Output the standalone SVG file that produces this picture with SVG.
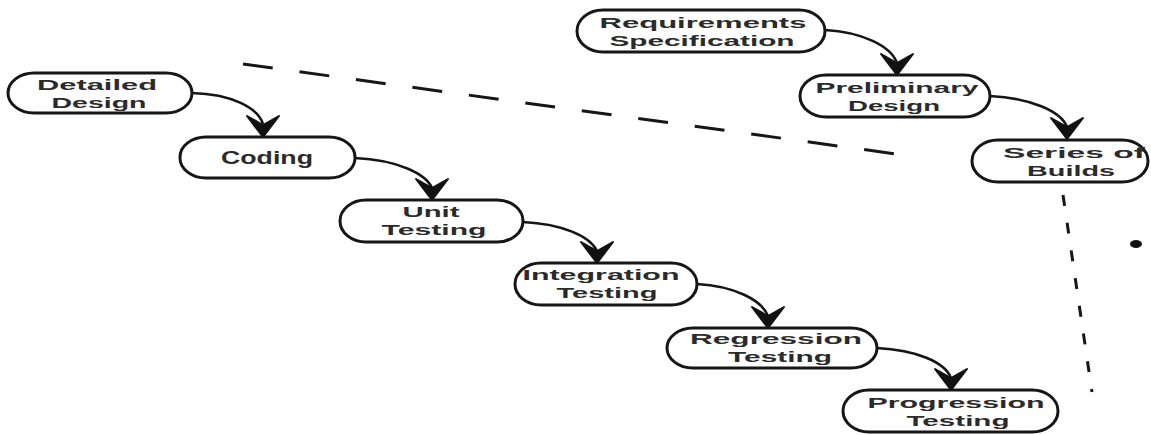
<svg xmlns="http://www.w3.org/2000/svg" xmlns:xlink="http://www.w3.org/1999/xlink" width="1151" height="435" viewBox="0 0 1151 435">
  <style>
    .node rect { fill: #ffffff; stroke: #161616; stroke-width: 3; }
    .node text { font-family: "Liberation Sans", Arial, sans-serif; font-size: 15.5px; font-weight: bold; fill: #2b2b2b; text-anchor: middle; }
    .node text.single { font-size: 18px; }
    .flow { fill: none; stroke: #161616; stroke-width: 2.6; }
    .divider { fill: none; stroke: #161616; stroke-width: 3; }
  </style>
  <defs>
    <!-- barbed arrowhead, tip at origin, pointing down -->
    <path id="head" d="M0,0 L-16,-21 L0,-12 L16,-21 Z" fill="#111111" stroke="#111111" stroke-width="2" stroke-linejoin="round"/>
  </defs>

  <rect width="1151" height="435" fill="#ffffff"/>

  <!-- phase boundaries -->
  <g id="dividers">
    <path class="divider" d="M243,64 L918,157" stroke-dasharray="30 27"/>
    <path class="divider" d="M1063,195 L1092,392" stroke-dasharray="11 17" stroke-width="4"/>
    <ellipse cx="1136" cy="244" rx="6" ry="4" fill="#111111"/>
  </g>

  <!-- connectors -->
  <g id="connectors">
    <path class="flow" d="M192,93 C232,94 258,108 263,124"/>
    <use xlink:href="#head" x="263" y="137"/>
    <path class="flow" d="M355,158 C398,160 426,174 432,188"/>
    <use xlink:href="#head" x="432" y="200"/>
    <path class="flow" d="M523,222 C562,224 590,236 597,251"/>
    <use xlink:href="#head" x="597" y="263"/>
    <path class="flow" d="M697,284 C734,286 762,300 768,316"/>
    <use xlink:href="#head" x="768" y="328"/>
    <path class="flow" d="M877,348 C916,350 945,362 951,378"/>
    <use xlink:href="#head" x="951" y="390"/>
    <path class="flow" d="M825,30 C862,32 891,46 897,63"/>
    <use xlink:href="#head" x="897" y="75"/>
    <path class="flow" d="M990,96 C1030,98 1061,111 1067,127"/>
    <use xlink:href="#head" x="1067" y="139"/>
  </g>

  <g id="requirements-specification" class="node">
    <rect x="577" y="10" width="248" height="42" rx="26" ry="21"/>
    <text x="703" y="28" textLength="207" lengthAdjust="spacingAndGlyphs">Requirements</text>
    <text x="702" y="45.5" textLength="185" lengthAdjust="spacingAndGlyphs">Specification</text>
  </g>

  <g id="preliminary-design" class="node">
    <rect x="800" y="75" width="190" height="42" rx="26" ry="21"/>
    <text x="897" y="93" textLength="163" lengthAdjust="spacingAndGlyphs">Preliminary</text>
    <text x="894" y="110.5" textLength="92" lengthAdjust="spacingAndGlyphs">Design</text>
  </g>

  <g id="series-of-builds" class="node">
    <rect x="972" y="140" width="176" height="42" rx="26" ry="21"/>
    <text x="1074" y="158" textLength="142" lengthAdjust="spacingAndGlyphs">Series of</text>
    <text x="1071" y="175.5" textLength="88" lengthAdjust="spacingAndGlyphs">Builds</text>
  </g>

  <g id="detailed-design" class="node">
    <rect x="8" y="73" width="184" height="40" rx="26" ry="20"/>
    <text x="97" y="90" textLength="120" lengthAdjust="spacingAndGlyphs">Detailed</text>
    <text x="99" y="107.5" textLength="95" lengthAdjust="spacingAndGlyphs">Design</text>
  </g>

  <g id="coding" class="node">
    <rect x="180" y="137" width="175" height="41" rx="26" ry="20"/>
    <text class="single" x="267" y="164" textLength="92" lengthAdjust="spacingAndGlyphs">Coding</text>
  </g>

  <g id="unit-testing" class="node">
    <rect x="340" y="200" width="183" height="42" rx="26" ry="21"/>
    <text x="431" y="217" textLength="57" lengthAdjust="spacingAndGlyphs">Unit</text>
    <text x="434" y="234.5" textLength="105" lengthAdjust="spacingAndGlyphs">Testing</text>
  </g>

  <g id="integration-testing" class="node">
    <rect x="515" y="263" width="182" height="42" rx="26" ry="21"/>
    <text x="601" y="280" textLength="157" lengthAdjust="spacingAndGlyphs">Integration</text>
    <text x="607" y="297.5" textLength="101" lengthAdjust="spacingAndGlyphs">Testing</text>
  </g>

  <g id="regression-testing" class="node">
    <rect x="667" y="328" width="210" height="40" rx="26" ry="20"/>
    <text x="776" y="344" textLength="172" lengthAdjust="spacingAndGlyphs">Regression</text>
    <text x="780" y="361.5" textLength="104" lengthAdjust="spacingAndGlyphs">Testing</text>
  </g>

  <g id="progression-testing" class="node">
    <rect x="843" y="390" width="215" height="42" rx="26" ry="21"/>
    <text x="956" y="408" textLength="177" lengthAdjust="spacingAndGlyphs">Progression</text>
    <text x="958" y="425.5" textLength="103" lengthAdjust="spacingAndGlyphs">Testing</text>
  </g>
</svg>
